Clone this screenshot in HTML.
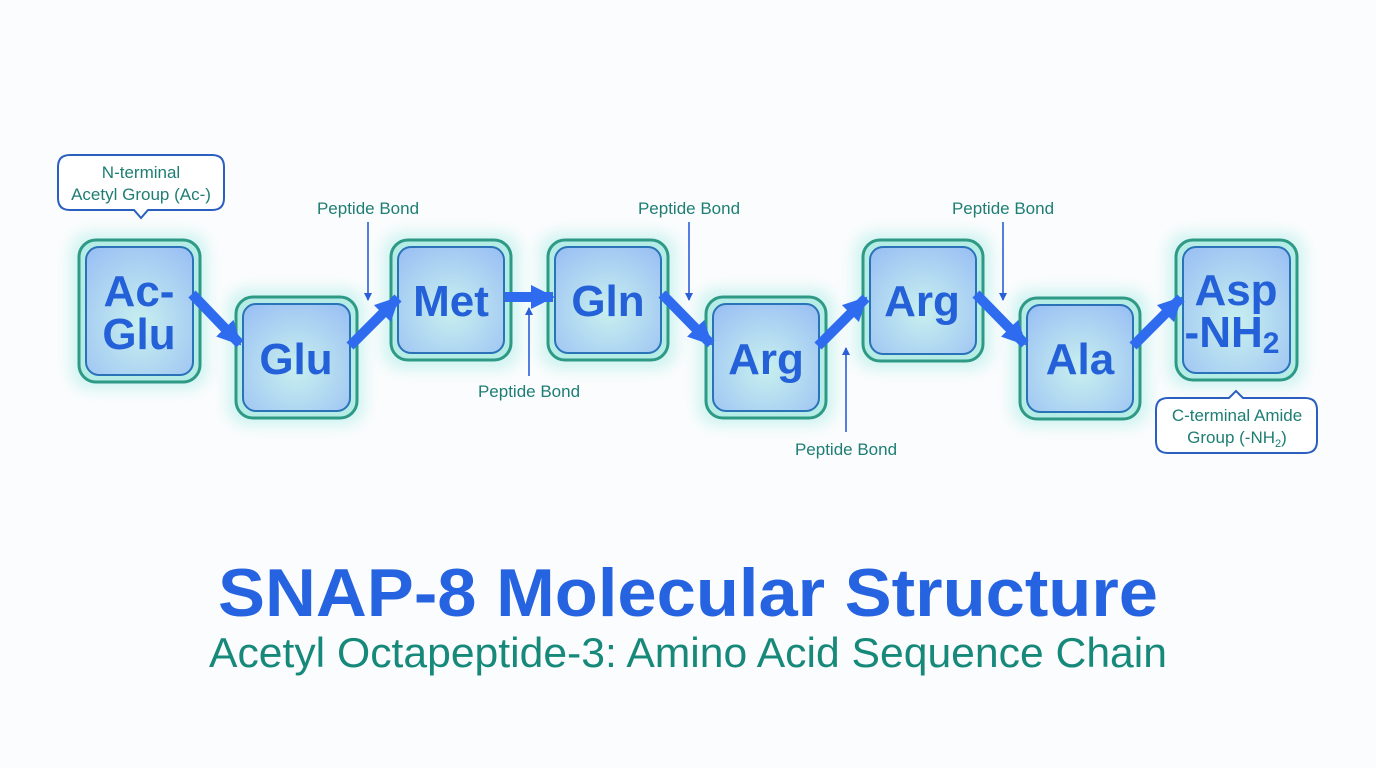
<!DOCTYPE html>
<html><head><meta charset="utf-8"><style>
html,body{margin:0;padding:0;background:#fbfcfd;}
svg{display:block;font-family:"Liberation Sans",sans-serif;}
</style></head><body>
<svg width="1376" height="768" viewBox="0 0 1376 768">
<defs>
<radialGradient id="g" cx="0.5" cy="0.6" r="0.7">
<stop offset="0" stop-color="#c8f0ee"/><stop offset="1" stop-color="#9cc2f4"/>
</radialGradient>
<filter id="glow" x="-30%" y="-30%" width="160%" height="160%"><feGaussianBlur stdDeviation="7"/></filter>
<marker id="ah" markerWidth="8" markerHeight="8" refX="7" refY="4" orient="auto" markerUnits="userSpaceOnUse"><path d="M0,0 L8,4 L0,8z" fill="#2a5fd8"/></marker>
<marker id="big" markerWidth="28" markerHeight="28" refX="22" refY="14" orient="auto" markerUnits="userSpaceOnUse"><path d="M0,2 L24,14 L0,26z" fill="#2f6bef"/></marker>
</defs>
<g stroke-linejoin="round">
<rect x="70" y="232" width="138" height="158" rx="20" fill="#a8ece6" opacity="0.5" filter="url(#glow)"/>
<rect x="79" y="240" width="121" height="142" rx="17" fill="#b6ece6" stroke="#2e9a86" stroke-width="3"/>
<rect x="86" y="247" width="107" height="128" rx="13" fill="url(#g)" stroke="#2a73b8" stroke-width="2"/>

<rect x="227" y="288" width="138" height="138" rx="20" fill="#a8ece6" opacity="0.5" filter="url(#glow)"/>
<rect x="236" y="297" width="121" height="121" rx="17" fill="#b6ece6" stroke="#2e9a86" stroke-width="3"/>
<rect x="243" y="304" width="107" height="107" rx="13" fill="url(#g)" stroke="#2a73b8" stroke-width="2"/>

<rect x="382" y="232" width="138" height="138" rx="20" fill="#a8ece6" opacity="0.5" filter="url(#glow)"/>
<rect x="391" y="240" width="120" height="120" rx="17" fill="#b6ece6" stroke="#2e9a86" stroke-width="3"/>
<rect x="398" y="247" width="106" height="106" rx="13" fill="url(#g)" stroke="#2a73b8" stroke-width="2"/>

<rect x="539" y="232" width="138" height="138" rx="20" fill="#a8ece6" opacity="0.5" filter="url(#glow)"/>
<rect x="548" y="240" width="120" height="120" rx="17" fill="#b6ece6" stroke="#2e9a86" stroke-width="3"/>
<rect x="555" y="247" width="106" height="106" rx="13" fill="url(#g)" stroke="#2a73b8" stroke-width="2"/>

<rect x="697" y="288" width="138" height="138" rx="20" fill="#a8ece6" opacity="0.5" filter="url(#glow)"/>
<rect x="706" y="297" width="120" height="121" rx="17" fill="#b6ece6" stroke="#2e9a86" stroke-width="3"/>
<rect x="713" y="304" width="106" height="107" rx="13" fill="url(#g)" stroke="#2a73b8" stroke-width="2"/>

<rect x="854" y="232" width="138" height="138" rx="20" fill="#a8ece6" opacity="0.5" filter="url(#glow)"/>
<rect x="863" y="240" width="120" height="121" rx="17" fill="#b6ece6" stroke="#2e9a86" stroke-width="3"/>
<rect x="870" y="247" width="106" height="107" rx="13" fill="url(#g)" stroke="#2a73b8" stroke-width="2"/>

<rect x="1011" y="289" width="138" height="138" rx="20" fill="#a8ece6" opacity="0.5" filter="url(#glow)"/>
<rect x="1020" y="298" width="120" height="121" rx="17" fill="#b6ece6" stroke="#2e9a86" stroke-width="3"/>
<rect x="1027" y="305" width="106" height="107" rx="13" fill="url(#g)" stroke="#2a73b8" stroke-width="2"/>

<rect x="1167" y="232" width="138" height="156" rx="20" fill="#a8ece6" opacity="0.5" filter="url(#glow)"/>
<rect x="1176" y="240" width="121" height="140" rx="17" fill="#b6ece6" stroke="#2e9a86" stroke-width="3"/>
<rect x="1183" y="247" width="107" height="126" rx="13" fill="url(#g)" stroke="#2a73b8" stroke-width="2"/>
</g>
<g stroke="#2f6bef" stroke-width="10" fill="none" marker-end="url(#big)">
<line x1="192" y1="294" x2="240" y2="344"/>
<line x1="350" y1="346" x2="398" y2="298"/>
<line x1="505" y1="297" x2="553" y2="297"/>
<line x1="662" y1="294" x2="711" y2="344"/>
<line x1="818" y1="346" x2="866" y2="298"/>
<line x1="976" y1="294" x2="1025" y2="344"/>
<line x1="1133" y1="346" x2="1181" y2="298"/>
</g>
<g fill="#2460d8" font-weight="bold" font-size="44" text-anchor="middle">
<text x="139" y="306">Ac-</text>
<text x="139" y="349">Glu</text>
<text x="296" y="374">Glu</text>
<text x="451" y="316">Met</text>
<text x="608" y="316">Gln</text>
<text x="766" y="374">Arg</text>
<text x="922" y="316">Arg</text>
<text x="1080" y="374">Ala</text>
<text x="1236" y="305">Asp</text>
<text x="1232" y="347">-NH<tspan font-size="30" dy="6">2</tspan></text>
</g>
<path d="M70,155 H212 Q224,155 224,167 V198 Q224,210 212,210 H148 L141,218 L134,210 H70 Q58,210 58,198 V167 Q58,155 70,155Z" fill="#fff" stroke="#2a5fc0" stroke-width="2"/>
<g fill="#1e7e74" font-size="17" text-anchor="middle">
<text x="141" y="178">N-terminal</text>
<text x="141" y="200">Acetyl Group (Ac-)</text>
</g>
<path d="M1168,398 H1229 L1236,391 L1243,398 H1305 Q1317,398 1317,410 V441 Q1317,453 1305,453 H1168 Q1156,453 1156,441 V410 Q1156,398 1168,398Z" fill="#fff" stroke="#2a5fc0" stroke-width="2"/>
<g fill="#1e7e74" font-size="17" text-anchor="middle">
<text x="1237" y="421">C-terminal Amide</text>
<text x="1237" y="443">Group (-NH<tspan font-size="11" dy="4">2</tspan><tspan dy="-4">)</tspan></text>
</g>
<g fill="#1e7e74" font-size="17" text-anchor="middle">
<text x="368" y="214">Peptide Bond</text>
<text x="529" y="397">Peptide Bond</text>
<text x="689" y="214">Peptide Bond</text>
<text x="846" y="455">Peptide Bond</text>
<text x="1003" y="214">Peptide Bond</text>
</g>
<g stroke="#2a5fd8" stroke-width="1.6" marker-end="url(#ah)">
<line x1="368" y1="222" x2="368" y2="300"/>
<line x1="529" y1="376" x2="529" y2="308"/>
<line x1="689" y1="222" x2="689" y2="300"/>
<line x1="846" y1="432" x2="846" y2="348"/>
<line x1="1003" y1="222" x2="1003" y2="300"/>
</g>
<text x="688" y="616" text-anchor="middle" font-size="68" font-weight="bold" fill="#2563e0" textLength="940" lengthAdjust="spacingAndGlyphs">SNAP-8 Molecular Structure</text>
<text x="688" y="667" text-anchor="middle" font-size="42" fill="#16897a" textLength="958" lengthAdjust="spacingAndGlyphs">Acetyl Octapeptide-3: Amino Acid Sequence Chain</text>
</svg>
</body></html>
